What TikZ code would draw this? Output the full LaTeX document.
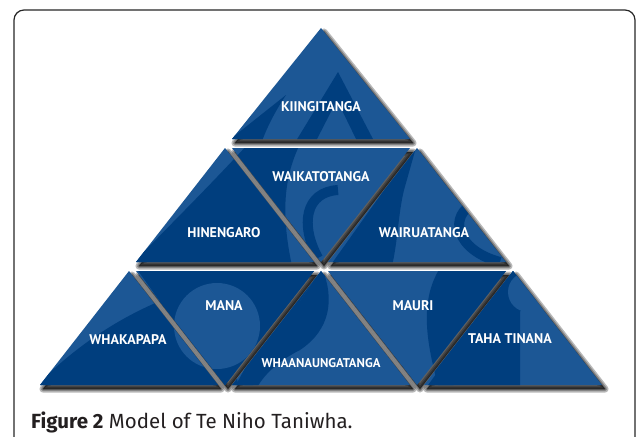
\documentclass[tikz,border=0pt]{standalone}
\usepackage{fontspec}
\setmainfont{PT Sans}
\newfontfamily\capfont{Fira Sans}
\definecolor{dkb}{RGB}{0,62,126}
\definecolor{ltb}{RGB}{28,87,149}
\definecolor{capc}{RGB}{35,31,32}
\tikzset{
  tshadow/.style={fill=black, draw=black, opacity=0.28, line join=round},
  tfill/.style={fill=ltb},
  lbl/.style={text=white, font=\bfseries\fontsize{14}{16}\selectfont, inner sep=0pt},
  frame/.style={draw=black!85, line width=1.2pt, rounded corners=10pt},
  wm/.style={fill=dkb},
}
\def\UPS{321/28/139,225/148/262,417/148/262,129/271/385,321/271/385,513/271/385}
\def\DNS{321/148/262,225/271/385,417/271/385}
\begin{document}
\begin{tikzpicture}[x=1pt,y=-1pt]
\useasboundingbox (0,0) rectangle (636,436);
\draw[frame] (14,450) -- (14,10) -- (635,10) -- (635,450);
% shadows
\foreach \w in {7,4,1.5}{
  \foreach \c/\t/\b in \UPS {
    \filldraw[tshadow, line width=\w pt] ({\c+3},{\t+4}) -- ({\c-86},{\b+4}) -- ({\c+92},{\b+4}) -- cycle;}
  \foreach \c/\t/\b in \DNS {
    \filldraw[tshadow, line width=\w pt] ({\c-86},{\t+4}) -- ({\c+92},{\t+4}) -- ({\c+3},{\b+4}) -- cycle;}
}
% triangles
\foreach \c/\t/\b in \UPS {
  \fill[tfill] (\c,\t) -- ({\c-89},\b) -- ({\c+89},\b) -- cycle;}
\foreach \c/\t/\b in \DNS {
  \fill[tfill] ({\c-89},\t) -- ({\c+89},\t) -- (\c,\b) -- cycle;}
% watermark pattern
\begin{scope}
  \clip \foreach \c/\t/\b in \UPS {(\c,\t) -- ({\c-89},\b) -- ({\c+89},\b) -- cycle}
        \foreach \c/\t/\b in \DNS {({\c-89},\t) -- ({\c+89},\t) -- (\c,\b) -- cycle};
  % top
  \fill[wm] (338,72) -- (374,141) -- (357,141) -- (337,100) -- (316,141) -- (296,141) -- cycle;
  \fill[wm] (228,141) -- (262,141) .. controls (268,125) and (276,110) .. (286,95) -- cycle;
  % hinengaro / waikatotanga
  \fill[wm] (130,266) .. controls (180,215) and (215,180) .. (248,144)
            -- (300,144) .. controls (285,175) and (280,210) .. (292,266) -- cycle;
  % whakapapa
  \fill[wm] (30,392) .. controls (90,330) and (150,300) .. (215,282) -- (240,392) -- cycle;
  % mana
  \fill[wm] (136,268) -- (316,268) -- (225,392) -- cycle;
  \fill[ltb] (217,326) circle (43);
  % waikatotanga hook
  \draw[dkb, line width=10pt] (318,258) .. controls (300,225) and (305,192) .. (338,190);
  % wairuatanga
  \fill[wm] (417,144) -- (404,190) .. controls (398,215) and (398,240) .. (392,266) -- (330,266) -- cycle;
  \draw[dkb, line width=10pt] (500,262) .. controls (455,250) and (448,215) .. (475,203);
  % whaanaungatanga
  \fill[wm] (322,268) .. controls (300,300) and (275,340) .. (250,392) -- (232,392) -- (300,268) -- cycle;
  \fill[wm] (322,268) .. controls (335,300) and (330,330) .. (300,350) .. controls (280,360) and (262,375) .. (255,392) -- (240,392) -- cycle;
  % mauri
  \fill[wm] (440,268) .. controls (420,300) and (425,340) .. (440,392) -- (520,392) -- (520,268) -- cycle;
  % taha tinana
  \fill[wm] (513,268) -- (423,392) -- (450,392) .. controls (470,350) and (500,320) .. (540,300) -- cycle;
  \fill[ltb] (528,292) circle (20);
\end{scope}
% labels
\node[lbl] (kiin) at (321,107) {KIINGITANGA};
\node[lbl] (waik) at (321,177) {WAIKATOTANGA};
\node[lbl] (hine) at (224,233) {HINENGARO};
\node[lbl] (wair) at (424,233) {WAIRUATANGA};
\node[lbl] (mana) at (224,306) {MANA};
\node[lbl] (maur) at (413,306) {MAURI};
\node[lbl, font=\bfseries\fontsize{12.7}{14}\selectfont] (whaa) at (321,363) {WHAANAUNGATANGA};
\node[lbl] (whak) at (128,340) {WHAKAPAPA};
\node[lbl] (taha) at (510,339) {TAHA TINANA};
% caption
\node[anchor=base west, inner sep=0pt, text=capc, font=\capfont\fontsize{20.5}{24}\selectfont] (cap) at (31,428) {\textbf{Figure 2} Model of Te Niho Taniwha.};
\end{tikzpicture}
\end{document}
